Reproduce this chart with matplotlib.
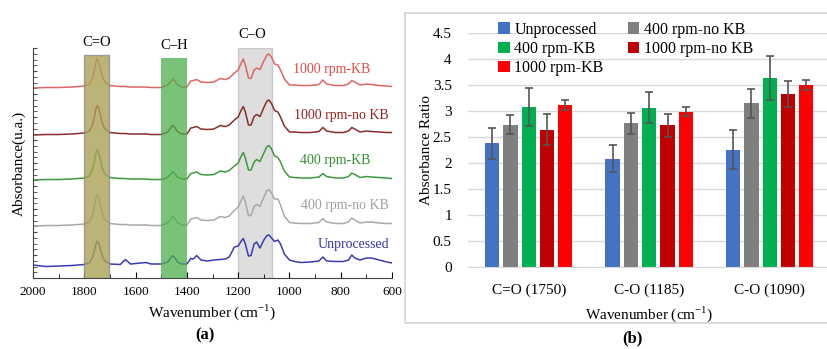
import numpy as np
import matplotlib
matplotlib.use("Agg")
import matplotlib.pyplot as plt
from matplotlib.patches import Rectangle
from matplotlib.ticker import MultipleLocator

plt.rcParams['font.family'] = ['Liberation Serif', 'DejaVu Serif']

# ---- panel (a): FTIR spectra, heights above each trace's own baseline ----
wavenumber = [2000, 1950, 1900, 1850, 1800, 1780, 1770, 1762, 1756, 1750,
              1744, 1738, 1730, 1720, 1700, 1660, 1640, 1620, 1580, 1560,
              1540, 1500, 1475, 1465, 1456, 1447, 1437, 1420, 1400, 1385,
              1375, 1362, 1345, 1320, 1295, 1270, 1250, 1235, 1215, 1200,
              1188, 1180, 1172, 1160, 1150, 1138, 1128, 1115, 1100, 1088,
              1080, 1070, 1058, 1045, 1035, 1020, 1000, 980, 955, 920,
              885, 870, 855, 820, 790, 770, 757, 745, 725, 700,
              680, 650, 620, 600]

rpm1000_kb = [0, 0.5, 0.5, 1, 2, 4, 8.5, 16, 24.5, 29,
              26.5, 20, 11.5, 6, 2.5, 1.5, 1.5, 1, 1, 1,
              0.5, 0.5, 3, 6, 9, 7, 3.5, 1, 1, 7,
              7.5, 8.5, 6, 5.5, 6, 9.5, 8.5, 10, 15, 18,
              25, 29, 23, 10, 9.5, 18, 20, 18.5, 27, 33,
              34, 31, 24, 23, 18, 9, 3, 3, 2.5, 2.5,
              3.5, 8, 4, 2.5, 2.5, 4, 7.5, 6, 3, 4,
              3.5, 2.5, 2, 1.5]
rpm1000_nokb = [0, 0.5, 0.5, 1, 2, 4, 9, 16, 25, 29.5,
                27, 20.5, 12, 6, 2.5, 1.5, 1.5, 1, 1, 1,
                0.5, 0.5, 3, 6.5, 9.5, 7.5, 3.5, 1, 1, 7,
                7.5, 8.5, 6, 5.5, 6, 9.5, 8.5, 10, 15, 18,
                25, 28.5, 23, 10, 10, 18.5, 20.5, 18.5, 27.5, 34,
                35, 31.5, 24.5, 23, 18, 9, 3, 3, 2.5, 2.5,
                3.5, 7.5, 4, 2.5, 2.5, 4, 7.5, 6, 3, 4,
                3.5, 3, 2.5, 2.5]
rpm400_kb = [0, 0.5, 0.5, 1, 2, 4, 9, 16.5, 25.5, 30,
             27.5, 21, 12, 6, 2.5, 1.5, 1.5, 1, 1, 1,
             0.5, 0.5, 2.5, 5.5, 8.5, 6.5, 3, 1, 1, 6.5,
             7, 8, 5.5, 5, 5.5, 9, 8, 9.5, 14, 17,
             24, 27.5, 22, 10, 10, 18, 20.5, 18.5, 27, 33.5,
             34.5, 31, 24, 22.5, 18, 9, 3, 2.5, 2, 2,
             3, 6.5, 3.5, 2, 2, 3.5, 7, 5.5, 2.5, 3.5,
             3, 2.5, 2, 1.5]
rpm400_nokb = [0, 0.5, 0.5, 1, 2, 4.5, 9.5, 17.5, 27, 31.5,
               29, 22, 12.5, 6.5, 2.5, 1.5, 1.5, 1, 1, 1,
               0.5, 0.5, 3, 6.5, 9.5, 7.5, 3.5, 1, 1, 7,
               7.5, 8.5, 6, 5.5, 6, 9.5, 8.5, 10, 15.5, 19,
               26, 30, 24, 10.5, 10.5, 19.5, 21.5, 19.5, 29, 35.5,
               36.5, 33, 27, 27, 21, 10, 3.5, 3, 2.5, 2.5,
               3.5, 7.5, 4, 2.5, 2.5, 4, 8, 6, 3, 4,
               4, 3, 2.5, 2.5]
unprocessed = [1, -0.5, 0, 0.5, 1.5, 3.5, 7.5, 14, 21, 25,
               23, 17.5, 10, 5, 2, 1.5, 6.5, 2, 3, 3.5,
               2, 2, 4, 7.5, 10.5, 8.5, 4, 2, 2, 7.5,
               7, 10.5, 6, 5, 6, 6.5, 7, 9, 19, 20,
               25, 27.5, 22, 10, 10.5, 22, 24, 18, 26, 30.5,
               31, 28, 24.5, 26, 22, 12, 6, 4.5, 3.5, 4,
               5, 9, 5, 4.5, 4.5, 6, 11, 8, 6, 8,
               8, 6, 4, 3]

spectra = [unprocessed, rpm400_nokb, rpm400_kb, rpm1000_nokb, rpm1000_kb]
spec_names = ['Unprocessed', '400 rpm-no KB', '400 rpm-KB', '1000 rpm-no KB', '1000 rpm-KB']
spec_offsets = [12, 52, 98, 143, 190]
line_colors = ['#3b3bb5', '#a9a9a9', '#3d9a3d', '#8a2c2c', '#e06565']
text_colors = ['#3535b0', '#a0a0a0', '#2f8f2f', '#9a2020', '#e04848']
label_y = [34, 73, 118, 163, 209]
label_x = [612, 612, 686, 612, 686]

# ---- panel (b): absorbance ratios ----
bands = ['C=O (1750)', 'C-O (1185)', 'C-O (1090)']
groups = ['Unprocessed', '400 rpm-no KB', '400 rpm-KB', '1000 rpm-no KB', '1000 rpm-KB']
ratio = [[2.38, 2.08, 2.26],
         [2.74, 2.76, 3.15],
         [3.08, 3.06, 3.63],
         [2.64, 2.73, 3.32],
         [3.11, 2.99, 3.50]]
ratio_err = [[0.30, 0.26, 0.37],
             [0.19, 0.21, 0.28],
             [0.37, 0.30, 0.42],
             [0.30, 0.22, 0.25],
             [0.10, 0.09, 0.09]]
bar_colors = ['#4472c4', '#7f7f7f', '#00b050', '#c00000', '#ff0000']

fig = plt.figure(figsize=(8.28, 3.49), dpi=100)

# panel (a)
ax = fig.add_axes([0.0399, 0.2034, 0.4336, 0.659])
for vals, off, c in zip(spectra, spec_offsets, line_colors):
    ax.plot(wavenumber, np.array(vals) + off, color=c, lw=1.1, zorder=2)
for name, x, y, c in zip(spec_names, label_x, label_y, text_colors):
    ax.text(x, y, name, color=c, fontsize=10, ha='right', va='center')

ax.add_patch(Rectangle((1705, 0), 95, 223, facecolor='#aaa155', alpha=0.8,
                       edgecolor='#8c8c8c', lw=1, zorder=3))
ax.add_patch(Rectangle((1400, 0), 100, 220, facecolor='#4caf4c', alpha=0.75,
                       edgecolor='none', zorder=3))
ax.add_patch(Rectangle((1067, 0), 133, 230, facecolor='#d3d3d3', alpha=0.75,
                       edgecolor='#bdbdbd', lw=1, zorder=1))
ax.text(1752, 236, 'C=O', fontsize=10.5, ha='center', va='center', clip_on=False)
ax.text(1450, 233, 'C\u2013H', fontsize=10.5, ha='center', va='center', clip_on=False)
ax.text(1146, 244, 'C\u2013O', fontsize=10.5, ha='center', va='center', clip_on=False)

ax.set_xlim(2000, 600)
ax.set_ylim(0, 230)
ax.set_xticks(range(2000, 599, -200))
ax.xaxis.set_minor_locator(MultipleLocator(100))
ax.yaxis.set_major_locator(MultipleLocator(23))
ax.yaxis.set_minor_locator(MultipleLocator(5.75))
ax.set_yticklabels([])
ax.tick_params(axis='x', direction='in', length=4, labelsize=9.5, pad=6)
ax.tick_params(axis='x', which='minor', direction='in', length=3)
ax.tick_params(axis='y', which='both', direction='in', length=3, color='#444444')
ax.spines['top'].set_visible(False)
ax.spines['right'].set_visible(False)
ax.spines['left'].set_color('#444444')
ax.spines['bottom'].set_color('#444444')
ax.set_xlabel('Wavenumber (cm$^{\\mathregular{-1}}$)', fontsize=11, labelpad=3)
ax.set_ylabel('Absorbance(u.a.)', fontsize=11, labelpad=2)

# panel (b)
fig.patches.append(Rectangle((405 / 828, 1 - 323 / 349), 0.6, 310 / 349,
                             transform=fig.transFigure, fill=False,
                             edgecolor='#d4d4d4', lw=1.2))
bx = fig.add_axes([0.5658, 0.234, 0.4366, 0.672])
x = np.arange(len(bands))
step = 0.152
width = 0.118
handles = []
for i, (vals, err, c) in enumerate(zip(ratio, ratio_err, bar_colors)):
    h = bx.bar(x + (i - 2) * step, vals, width, color=c, zorder=2,
               yerr=err, error_kw=dict(ecolor='#555555', elinewidth=1.2,
                                       capsize=3, capthick=1.2))
    handles.append(h)
bx.set_xlim(-0.5, 2.5)
bx.set_ylim(0, 4.5)
bx.set_yticks(np.arange(0, 4.51, 0.5))
bx.set_yticklabels(['0', '0.5', '1', '1.5', '2', '2.5', '3', '3.5', '4', '4.5'])
bx.set_xticks(x)
bx.set_xticklabels(bands)
bx.yaxis.grid(True, color='#d9d9d9', lw=1)
bx.set_axisbelow(True)
for s in ['top', 'right', 'left']:
    bx.spines[s].set_visible(False)
bx.spines['bottom'].set_color('#d9d9d9')
bx.tick_params(axis='both', length=0, labelsize=11, pad=12)
bx.tick_params(axis='y', pad=12)
bx.set_xlabel('Wavenumber (cm$^{\\mathregular{-1}}$)', fontsize=11, labelpad=5)
bx.set_ylabel('Absorbance Ratio', fontsize=11, labelpad=0)
order = [0, 2, 4, 1, 3]
bx.legend([handles[k] for k in order], [groups[k] for k in order], ncol=2,
          frameon=False, fontsize=11.5, loc='upper left',
          bbox_to_anchor=(0.065, 1.075), handlelength=0.7, handleheight=0.7,
          handletextpad=0.3, columnspacing=1.5, labelspacing=0.2,
          borderaxespad=0)

fig.text(205 / 828, 1 - 335 / 349, '(a)', fontsize=12, fontweight='bold',
         ha='center', va='center')
fig.text(632 / 828, 1 - 338 / 349, '(b)', fontsize=12, fontweight='bold',
         ha='center', va='center')

fig.savefig('out.png', dpi=100)
